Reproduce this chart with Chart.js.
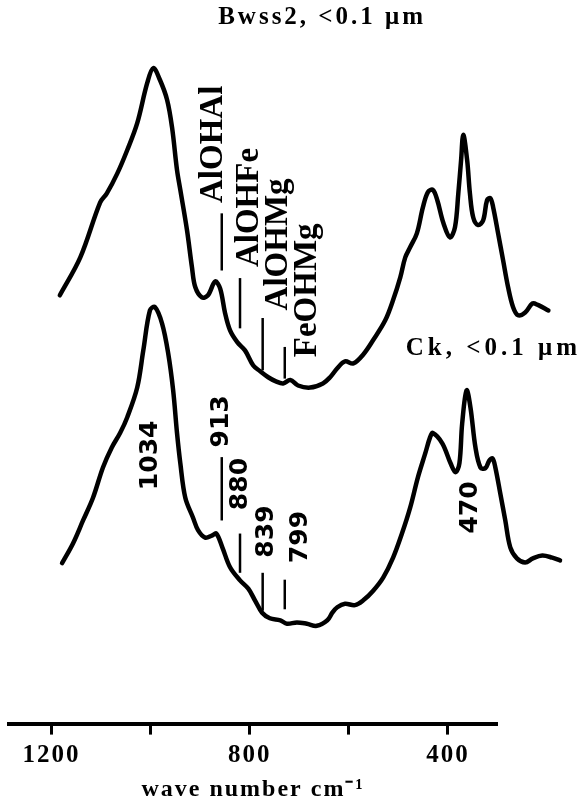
<!DOCTYPE html>
<html>
<head>
<meta charset="utf-8">
<script src="https://cdn.jsdelivr.net/npm/chart.js@4"></script>
<style>
  html, body { margin: 0; padding: 0; background: #fff; }
  #wrap { width: 587px; height: 797px; }
</style>
</head>
<body>
<div id="wrap"><canvas id="c" width="587" height="797"></canvas></div>
<script>
// IR spectra of the <0.1 µm clay fractions (absorbance in arbitrary units, Bwss2 offset above Ck)
const bwssWavenumber = [1206,1169,1133,1121,1102,1084,1066,1048,1037,1025,1012,1003,994,988,976,967,961,949,938,925,916,907,898,885,871,856,844,829,815,802,789,775,753,730,717,704,690,675,657,639,617,603,590,581,572,560,549,540,531,523,512,500,491,485,480,476,469,464,458,449,440,433,427,422,413,404,395,386,377,364,351,341,322];
const bwssAbsorbance = [62.2,67.7,75.7,77.0,79.9,83.3,87.2,93.0,95.2,93.5,90.6,86.6,80.4,77.5,71.7,66.3,63.4,61.9,62.2,64.2,63.2,59.6,57.1,55.4,54.2,52.0,51.2,50.3,49.7,49.4,49.9,49.1,48.8,49.4,50.3,51.6,52.6,52.3,53.6,55.7,58.6,61.5,64.8,67.7,69.2,71.2,75.0,77.2,77.5,76.0,72.7,70.6,72.1,77.0,81.8,85.5,81.8,77.0,73.5,72.4,73.1,76.0,76.3,75.0,71.2,67.3,63.4,60.5,59.3,59.7,61.0,60.8,60.0];

const ckWavenumber = [1202,1182,1164,1146,1128,1112,1097,1084,1066,1055,1043,1034,1021,1010,1001,994,988,979,965,956,943,931,923,912,898,880,865,853,840,826,807,795,777,759,741,722,713,704,690,672,657,639,621,603,587,572,558,545,536,531,514,499,490,483,478,470,463,454,445,436,429,423,418,409,400,391,379,364,350,333,315,301];
const ckAbsorbance = [23.3,26.2,29.5,32.8,37.2,40.1,42.2,44.5,48.8,54.2,60.0,60.5,58.1,53.8,48.4,42.2,37.8,32.8,29.9,28.1,27.0,27.3,27.6,25.6,22.7,20.8,19.6,17.9,16.1,15.3,15.0,14.5,14.7,14.5,14.2,15.0,16.1,16.9,17.4,17.2,17.9,19.3,21.2,24.1,27.6,31.4,35.8,39.2,41.6,42.2,40.7,37.8,36.5,37.8,43.6,48.4,45.9,40.1,37.2,37.1,38.2,38.5,37.2,33.4,29.5,25.6,24.0,23.4,24.0,24.4,24.1,23.7];

// OH-bending bands and their assignments
const bandPositions = [913, 880, 839, 799];
const bandNames = ['AlOHAl', 'AlOHFe', 'AlOHMg', 'FeOHMg'];
// band maxima written on the Ck spectrum
const peakLabels = [1034, 913, 880, 839, 799, 470];

// printed wavenumber bar
const axisTicks = [1200, 1000, 800, 600, 400];
const axisLabels = [1200, 800, 400];

const sampleNames = ['Bwss2, <0.1 μm', 'Ck, <0.1 μm'];

// ---- layout (data units: wavenumber, absorbance) ----
const markerSpanTop = [[65.8, 74.1], [57.4, 64.7], [51.3, 58.9], [50.1, 54.7]];
const markerSpanBottom = [[29.5, 38.7], [21.9, 27.6], [16.4, 21.9], [16.6, 20.9]];
const nameAnchors = [[912.4, 75.6], [847.2, 66.3], [794.8, 60.0], [742.3, 53.2]];
const peakAnchors = [[1030, 33.9], [901.5, 40.1], [867.2, 31.0], [820.1, 24.1], [758.6, 23.3], [450.9, 27.6]];
const sampleAnchors = [[731.4, 102.6], [421.5, 54.5]];

const toPoints = (xs, ys) => xs.map((x, i) => ({ x, y: ys[i] }));

const spectrumStyle = {
  borderColor: '#000', borderWidth: 4.5, pointRadius: 0, tension: 0.35,
  borderJoinStyle: 'round', borderCapStyle: 'round', clip: false, fill: false
};
const markerStyle = {
  borderColor: '#000', borderWidth: 2.5, pointRadius: 0, tension: 0, clip: false, fill: false
};

const datasets = [
  { label: sampleNames[0], data: toPoints(bwssWavenumber, bwssAbsorbance), ...spectrumStyle },
  { label: sampleNames[1], data: toPoints(ckWavenumber, ckAbsorbance), ...spectrumStyle }
];
bandPositions.forEach((b, i) => {
  datasets.push({ label: bandNames[i], data: markerSpanTop[i].map(v => ({ x: b, y: v })), ...markerStyle });
  datasets.push({ label: String(b), data: markerSpanBottom[i].map(v => ({ x: b, y: v })), ...markerStyle });
});

function textUp(ctx, text, px, py) {
  ctx.save();
  ctx.translate(px, py);
  ctx.rotate(-Math.PI / 2);
  ctx.textAlign = 'left';
  ctx.textBaseline = 'alphabetic';
  ctx.fillText(text, 0, 0);
  ctx.restore();
}

const annotate = {
  id: 'annotate',
  beforeDraw(chart) {
    chart.ctx.letterSpacing = '2px';
  },
  afterDraw(chart) {
    const { ctx } = chart;
    const x = chart.scales.x, y = chart.scales.y;
    ctx.save();
    ctx.fillStyle = '#000';

    ctx.letterSpacing = '0px';
    ctx.font = 'bold 33px "Liberation Serif"';
    bandNames.forEach((name, i) => {
      const [w, a] = nameAnchors[i];
      textUp(ctx, name, x.getPixelForValue(w), y.getPixelForValue(a));
    });

    ctx.font = 'bold 25px "DejaVu Sans"';
    peakLabels.forEach((p, i) => {
      const [w, a] = peakAnchors[i];
      textUp(ctx, String(p), x.getPixelForValue(w), y.getPixelForValue(a));
    });

    ctx.textAlign = 'center';
    ctx.textBaseline = 'middle';
    ctx.font = 'bold 25px "Liberation Serif"';
    sampleNames.forEach((s, i) => {
      const [w, a] = sampleAnchors[i];
      ctx.letterSpacing = i === 0 ? '3px' : '4px';
      ctx.fillText(s, x.getPixelForValue(w), y.getPixelForValue(a));
    });
    ctx.restore();
    ctx.letterSpacing = '0px';
  }
};

new Chart(document.getElementById('c'), {
  type: 'line',
  data: { datasets },
  options: {
    responsive: false,
    animation: false,
    devicePixelRatio: 1,
    layout: { padding: { top: 35, left: 9, right: 90, bottom: 0 } },
    plugins: { legend: { display: false }, tooltip: { enabled: false } },
    scales: {
      x: { type: 'linear', reverse: true, min: 415, max: 1298, display: false },
      y: { type: 'linear', min: 0, max: 100, display: false },
      bar: {
        type: 'linear',
        position: 'bottom',
        reverse: true,
        min: 301,
        max: 1286,
        afterBuildTicks: s => { s.ticks = axisTicks.map(v => ({ value: v })); },
        ticks: {
          autoSkip: false, maxRotation: 0, padding: 6, color: '#000',
          font: { family: 'Liberation Serif', size: 25, weight: 'bold' },
          callback: v => axisLabels.includes(v) ? String(v) : ''
        },
        grid: { drawOnChartArea: false, drawTicks: true, tickLength: 11, tickWidth: 3, tickColor: '#000' },
        border: { display: true, width: 4, color: '#000' },
        title: {
          display: true, text: 'wave number cm⁻¹', color: '#000',
          font: { family: 'Liberation Serif', size: 24, weight: 'bold', lineHeight: 0.6 },
          padding: { top: 6, bottom: 0 }
        }
      }
    }
  },
  plugins: [annotate]
});
</script>
</body>
</html>
